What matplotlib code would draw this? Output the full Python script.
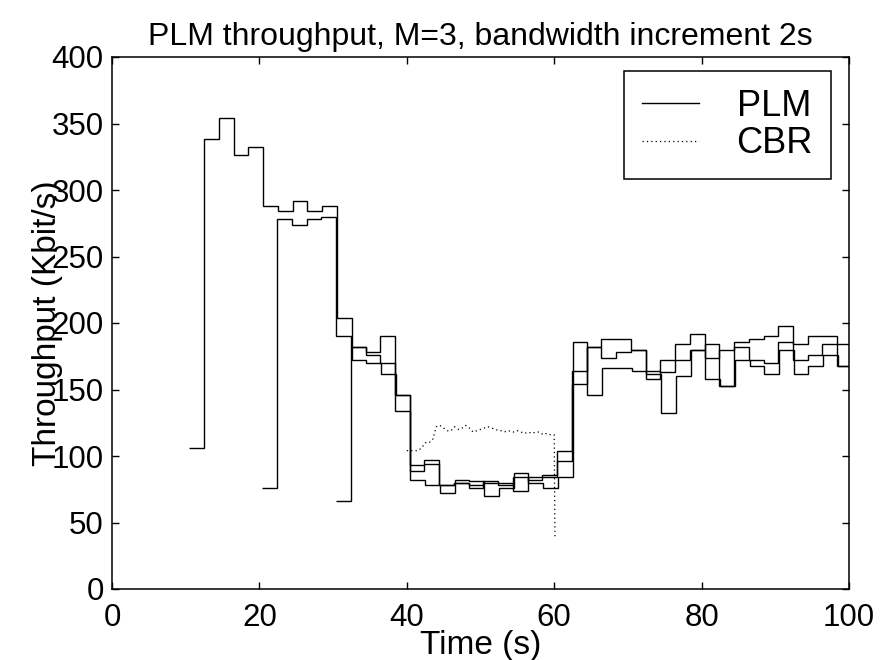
import numpy as np
import matplotlib
matplotlib.use("Agg")
import matplotlib.pyplot as plt

# ---- data ----
interval = 2.0  # s, bandwidth increment / sampling period
plm1_start = 10.5
plm1 = [106, 338, 354, 326, 332, 288, 284, 292, 284, 288,
        204, 172, 170, 162, 146, 82, 78, 72, 82, 81,
        70, 76, 87, 80, 76, 84, 186, 146, 166, 166,
        164, 162, 132, 160, 180, 158, 153, 172, 168, 162,
        180, 162, 168, 176, 168]
plm2_start = 20.4
plm2 = [76, 278, 274, 278, 280, 190, 182, 178, 190, 134,
        93, 97, 78, 80, 76, 81, 80, 74, 84, 84,
        104, 154, 182, 188, 188, 180, 158, 172, 184, 192,
        174, 180, 186, 188, 190, 198, 184, 190, 190, 184]
plm3_start = 30.4
plm3 = [66, 182, 176, 170, 146, 89, 94, 78, 80, 78,
        80, 78, 84, 82, 86, 96, 164, 182, 174, 178,
        180, 164, 163, 172, 180, 184, 153, 182, 172, 170,
        186, 172, 176, 184, 168]

cbr_t = [40.0, 40.5, 41.0, 41.5, 42.0, 42.5, 43.0, 43.5, 44.0, 44.5,
         45.0, 45.5, 46.0, 46.5, 47.0, 47.5, 48.0, 48.5, 49.0, 49.5,
         50.0, 50.5, 51.0, 51.5, 52.0, 52.5, 53.0, 53.5, 54.0, 54.5,
         55.0, 55.5, 56.0, 56.5, 57.0, 57.5, 58.0, 58.5, 59.0, 59.5,
         60.0, 60.1]
cbr_v = [104, 104, 104, 104, 106, 110, 110, 112, 122, 123,
         121, 119, 119, 122, 120, 121, 123, 121, 118, 119,
         120, 121, 122, 121, 120, 119, 119, 118, 119, 118,
         119, 118, 117, 118, 117, 118, 118, 116, 117, 116,
         116, 39]

title = "PLM throughput, M=3, bandwidth increment 2s"
xlabel = "Time (s)"
ylabel = "Throughput (Kbit/s)"
xticks = [0, 20, 40, 60, 80, 100]
yticks = [0, 50, 100, 150, 200, 250, 300, 350, 400]

plt.rcParams['font.family'] = ['Liberation Sans', 'DejaVu Sans']

fig = plt.figure(figsize=(8.9, 6.6), dpi=100)
ax = fig.add_axes([112/890, 1-589/660, 737/890, 532/660])

series = [(plm1_start, plm1), (plm2_start, plm2), (plm3_start, plm3)]
for i, (start, vals) in enumerate(series):
    edges = start + interval*np.arange(len(vals)+1)
    ax.stairs(vals, edges, baseline=None, color='black', linewidth=1.0,
              label='PLM' if i == 0 else None)

ax.plot(cbr_t, cbr_v, color='black', linestyle=(0, (1, 2.5)), linewidth=0.9,
        label='CBR')

ax.set_xlim(0, 100)
ax.set_ylim(0, 400)
ax.set_xticks(xticks)
ax.set_yticks(yticks)
ax.tick_params(direction='in', top=True, right=True, length=5, width=1,
               labelsize=22.5)
ax.tick_params(axis='x', pad=10)
ax.tick_params(axis='y', pad=6)
for s in ax.spines.values():
    s.set_linewidth(1.1)

ax.set_title(title, fontsize=23, pad=9)
ax.set_xlabel(xlabel, fontsize=24, labelpad=-2)
ax.set_ylabel(ylabel, fontsize=24, labelpad=-8)

leg = ax.legend(loc='upper right', bbox_to_anchor=(0.9756, 0.9737),
                borderaxespad=0, fontsize=26, handlelength=1.58,
                handletextpad=1.05, borderpad=0.5, labelspacing=0.06,
                fancybox=False, framealpha=1, edgecolor='black')
leg.get_frame().set_linewidth(1.1)

fig.savefig("out.png", dpi=100)
